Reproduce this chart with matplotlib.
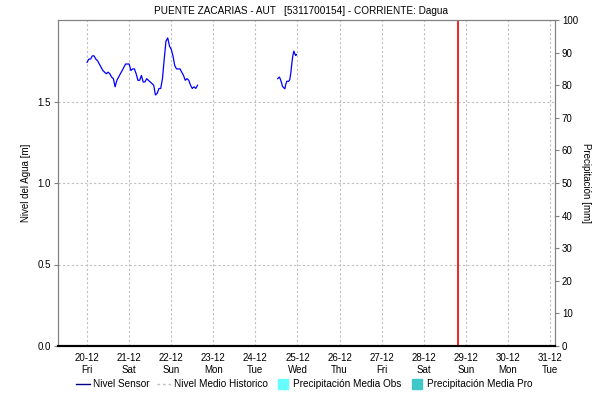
import matplotlib as mpl
mpl.use('Agg')
import matplotlib.pyplot as plt
from matplotlib.lines import Line2D
import pandas as pd

mpl.rcParams['font.family'] = ['Liberation Sans', 'DejaVu Sans']

title = "PUENTE ZACARIAS - AUT   [5311700154] - CORRIENTE: Dagua"
t0 = pd.Timestamp("2024-12-20 00:00")

# hours after 20-12 00:00, level in m
hours_a = list(range(0, 64))
level_a = [1.74, 1.76, 1.76, 1.78, 1.78, 1.76, 1.75, 1.73, 1.71, 1.69,
           1.68, 1.67, 1.68, 1.67, 1.65, 1.64, 1.59, 1.63, 1.65, 1.67,
           1.69, 1.71, 1.73, 1.73, 1.73, 1.69, 1.70, 1.70, 1.67, 1.63,
           1.63, 1.66, 1.62, 1.62, 1.64, 1.63, 1.62, 1.61, 1.60, 1.54,
           1.55, 1.58, 1.58, 1.64, 1.76, 1.87, 1.89, 1.84, 1.82, 1.78,
           1.72, 1.70, 1.70, 1.70, 1.68, 1.66, 1.63, 1.64, 1.63, 1.60,
           1.58, 1.59, 1.58, 1.60]

hours_b = [108.7, 109.7, 110.3, 110.9, 111.4, 112.2, 112.8, 113.3, 113.9,
           115.0, 115.6, 116.2, 116.7, 117.3, 117.9, 118.4, 119.0, 119.4]
level_b = [1.64, 1.65, 1.635, 1.615, 1.594, 1.584, 1.578, 1.604, 1.624,
           1.624, 1.635, 1.676, 1.727, 1.778, 1.809, 1.795, 1.782, 1.788]

day_ticks = pd.date_range("2024-12-20", "2024-12-31", freq="D")
now_mark = pd.Timestamp("2024-12-28 19:30")
x_start = pd.Timestamp("2024-12-19 07:26")
x_end = pd.Timestamp("2024-12-31 02:50")

fig = plt.figure(figsize=(5.98, 4.01), dpi=100)
ax = fig.add_axes([58/598, 55/401, 497/598, 326/401])
ax2 = ax.twinx()

ta = t0 + pd.to_timedelta(hours_a, unit='h')
tb = t0 + pd.to_timedelta(hours_b, unit='h')
ax.plot(ta, level_a, color='#0000ff', lw=0.9)
ax.plot(tb, level_b, color='#0000ff', lw=0.9)
ax.axvline(now_mark, color='#ee0000', lw=1.2)

ax.set_xlim(x_start, x_end)
ax.set_ylim(0, 2.0)
ax.set_yticks([0.0, 0.5, 1.0, 1.5])
ax.set_yticklabels(['0.0', '0.5', '1.0', '1.5'])
ax.set_xticks(day_ticks)
ax.set_xticklabels([d.strftime('%d-%m') + '\n' + d.strftime('%a') for d in day_ticks])
ax.grid(True, color='#c0c0c0', ls=(0, (2, 2)), lw=0.8)
ax.set_axisbelow(True)

ax2.set_ylim(0, 100)
ax2.set_yticks(range(0, 101, 10))

for a in (ax, ax2):
    for s in ('left', 'right', 'top'):
        a.spines[s].set_color('#808080')
    a.spines['bottom'].set_color('black')
    a.spines['bottom'].set_linestyle((0, (1, 1)))
    a.spines['bottom'].set_linewidth(1.5)
    a.tick_params(labelsize=7, colors='black', length=3, width=0.8, pad=2)
ax.tick_params(axis='x', length=0, pad=5)
ax.tick_params(axis='y', color='#808080')
ax2.tick_params(axis='y', color='#808080')

ax.set_ylabel("Nivel del Agua [m]", fontsize=7, labelpad=5)
ax2.set_ylabel("Precipitación [mm]", fontsize=7, rotation=270, labelpad=9)

fig.text(301/598, 1 - 11/401, title, ha='center', va='center', fontsize=7.2)

handles = [
    Line2D([], [], color='#000080', lw=1),
    Line2D([], [], color='#c0c0c0', lw=1, ls=(0, (2, 2))),
    Line2D([], [], color='#66ffff', marker='s', ls='none', markersize=7),
    Line2D([], [], color='#40c8c8', marker='s', ls='none', markersize=7),
]
labels = ["Nivel Sensor", "Nivel Medio Historico",
          "Precipitación Media Obs", "Precipitación Media Pro"]
fig.legend(handles, labels, loc='center', bbox_to_anchor=(304/598, 1 - 384/401),
           ncol=4, frameon=False, fontsize=7.2, handlelength=1.4,
           handletextpad=0.3, columnspacing=0.8)

fig.savefig("out.png", dpi=100)
